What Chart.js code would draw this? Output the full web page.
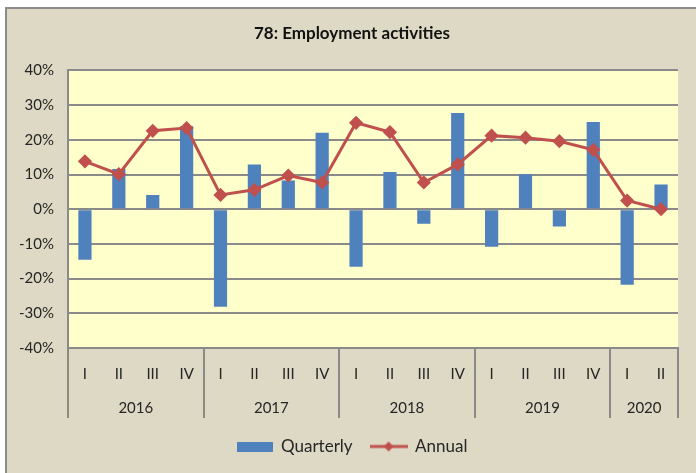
<!DOCTYPE html>
<html>
<head>
<meta charset="utf-8">
<script src="https://cdn.jsdelivr.net/npm/chart.js@4.4.1/dist/chart.umd.min.js"></script>
<style>
  html, body { margin: 0; padding: 0; background: #ffffff; width: 696px; height: 473px; overflow: hidden; }
  #frame { position: absolute; left: 5px; top: 7px; width: 720px; height: 500px; box-sizing: border-box;
           border-left: 2px solid #8c8c8c; border-top: 2px solid #8c8c8c; background: #DDD9C4; }
  #wrap { position: absolute; left: 0; top: 0; width: 696px; height: 473px; }
</style>
</head>
<body>
<div id="frame"></div>
<div id="wrap"><canvas id="c" width="696" height="473"></canvas></div>
<script>
const quarterLabels = ['I','II','III','IV','I','II','III','IV','I','II','III','IV','I','II','III','IV','I','II'];
const years = ['2016','2017','2018','2019','2020'];
const quartersPerYear = [4, 4, 4, 4, 2];
const quarterly = [-14.6, 11.6, 4.1, 23.9, -28.1, 12.9, 8.3, 22.0, -16.6, 10.7, -4.2, 27.7, -10.8, 10.1, -5.0, 25.1, -21.8, 7.1];
const annual = [13.8, 10.1, 22.6, 23.4, 4.1, 5.6, 9.7, 7.7, 24.9, 22.2, 7.7, 12.9, 21.2, 20.6, 19.6, 17.1, 2.5, 0.0];
const yTicks = [-40, -30, -20, -10, 0, 10, 20, 30, 40];

const BLUE = '#4F81BD', RED = '#C0504D', GRID = '#8a8a8a', TXT = '#262626';
const FONT = 'Lato, "Open Sans", sans-serif';

// year centres and boundaries (in category index units)
const yearCenters = [], yearBounds = [-0.5];
let acc = 0;
quartersPerYear.forEach(n => { yearCenters.push(acc + (n - 1) / 2); acc += n; yearBounds.push(acc - 0.5); });

// legend symbols
function legendBox() {
  const c = document.createElement('canvas'); c.width = 36; c.height = 10;
  const g = c.getContext('2d'); g.fillStyle = BLUE; g.fillRect(0, 0, 36, 10); return c;
}
function legendLine() {
  const c = document.createElement('canvas'); c.width = 38; c.height = 12;
  const g = c.getContext('2d'); g.strokeStyle = RED; g.lineWidth = 3;
  g.beginPath(); g.moveTo(0, 6); g.lineTo(38, 6); g.stroke();
  g.fillStyle = RED; g.beginPath(); g.moveTo(19, 1); g.lineTo(24, 6); g.lineTo(19, 11); g.lineTo(14, 6); g.closePath(); g.fill();
  return c;
}

const bgPlugin = {
  id: 'bg',
  beforeDraw(chart) {
    const a = chart.chartArea, ctx = chart.ctx;
    ctx.save(); ctx.fillStyle = '#FFFFCC'; ctx.fillRect(a.left, a.top, a.right - a.left, a.bottom - a.top); ctx.restore();
  }
};
const sepPlugin = {
  id: 'sep',
  afterDraw(chart) {
    const x2 = chart.scales.x2, ctx = chart.ctx;
    ctx.save(); ctx.strokeStyle = GRID; ctx.lineWidth = 2;
    yearBounds.forEach(b => {
      const px = Math.round(x2.getPixelForValue(b));
      ctx.beginPath(); ctx.moveTo(px, chart.chartArea.bottom); ctx.lineTo(px, x2.bottom - 2); ctx.stroke();
    });
    ctx.restore();
  }
};

new Chart(document.getElementById('c'), {
  data: {
    labels: quarterLabels,
    datasets: [
      { type: 'bar', label: 'Quarterly', data: quarterly, backgroundColor: BLUE, order: 2,
        categoryPercentage: 1, barPercentage: 0.39 },
      { type: 'line', label: 'Annual', data: annual, borderColor: RED, backgroundColor: RED, borderWidth: 3,
        pointStyle: 'rectRot', pointRadius: 5, pointBackgroundColor: RED, pointBorderColor: RED, order: 1, tension: 0 }
    ]
  },
  options: {
    responsive: false, animation: false,
    layout: { padding: { left: 8, right: 0, top: 0, bottom: 8 } },
    plugins: {
      title: { display: true, text: '78: Employment activities', color: '#111',
               font: { family: FONT, size: 17, weight: 'bold' }, padding: { top: 23, bottom: 27 } },
      legend: { position: 'bottom',
        labels: { usePointStyle: true, pointStyleWidth: 36, padding: 18, color: TXT,
          font: { family: FONT, size: 17 },
          generateLabels(chart) {
            return [
              { text: 'Quarterly', pointStyle: legendBox(), fillStyle: BLUE, strokeStyle: BLUE, lineWidth: 0, datasetIndex: 0, fontColor: TXT },
              { text: 'Annual', pointStyle: legendLine(), fillStyle: RED, strokeStyle: RED, lineWidth: 0, datasetIndex: 1, fontColor: TXT }
            ];
          } } },
      tooltip: { enabled: false }
    },
    scales: {
      y: {
        min: -40, max: 40,
        afterBuildTicks: s => { s.ticks = yTicks.map(v => ({ value: v })); },
        afterFit: s => { s.width = 60; },
        ticks: { callback: v => v + '%', color: TXT, font: { family: FONT, size: 15 }, padding: 14 },
        grid: { color: GRID, lineWidth: 2, drawTicks: false },
        border: { display: true, color: GRID, width: 2 }
      },
      yR: {
        position: 'right', min: 0, max: 1,
        afterFit: s => { s.width = 18; },
        ticks: { display: false },
        grid: { display: false, drawTicks: false },
        border: { display: false }
      },
      x: {
        type: 'category', position: 'bottom', weight: 0, offset: true,
        afterFit: s => { s.height = 44; },
        ticks: { color: TXT, font: { family: FONT, size: 15 }, padding: 17, maxRotation: 0, autoSkip: false },
        grid: { display: false, drawTicks: false },
        border: { display: true, color: GRID, width: 2 }
      },
      x2: {
        type: 'linear', position: 'bottom', weight: 1, min: -0.5, max: quarterLabels.length - 0.5, offset: false,
        afterBuildTicks: s => { s.ticks = yearCenters.map(v => ({ value: v })); },
        afterFit: s => { s.height = 28; },
        ticks: { callback: (v, i) => years[i], color: TXT, font: { family: FONT, size: 15 }, padding: 7, maxRotation: 0, autoSkip: false },
        grid: { display: false, drawTicks: false },
        border: { display: false }
      }
    }
  },
  plugins: [bgPlugin, sepPlugin]
});
</script>
</body>
</html>
